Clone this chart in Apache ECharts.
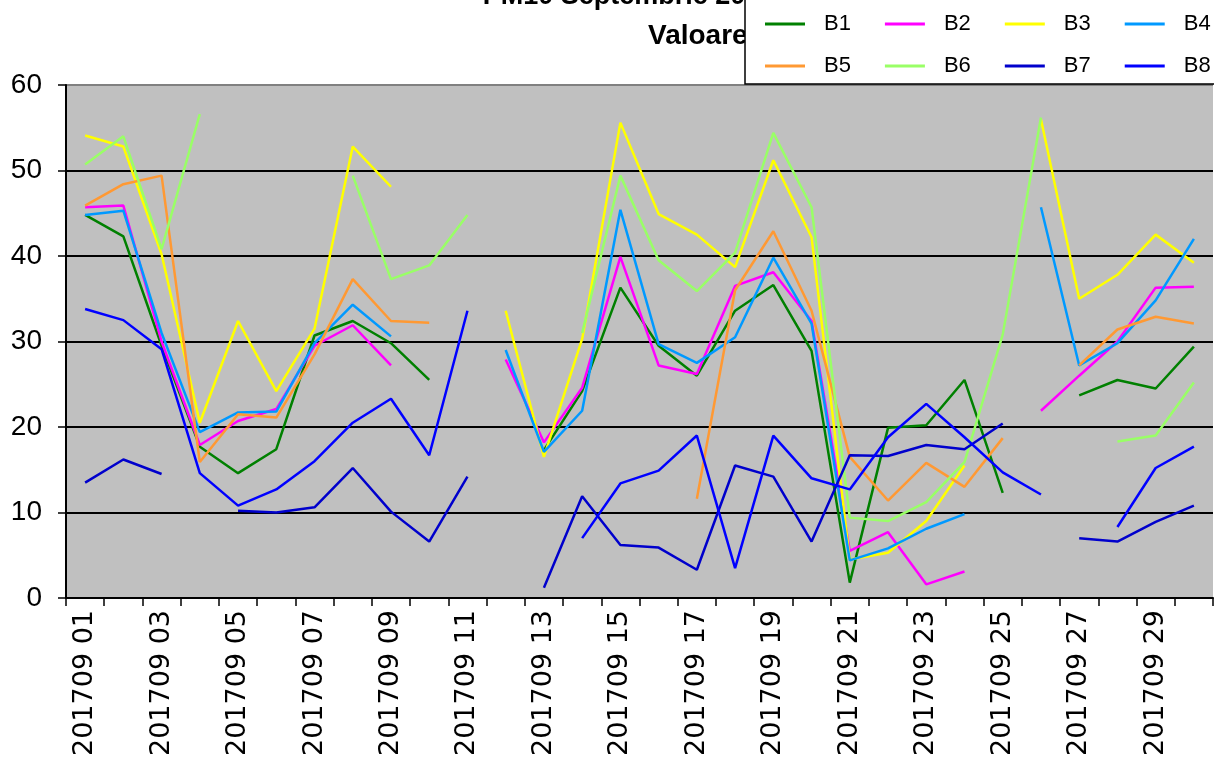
<!DOCTYPE html>
<html>
<head>
<meta charset="utf-8">
<script src="https://cdn.jsdelivr.net/npm/echarts@6/dist/echarts.min.js"></script>
<style>
  html, body { margin: 0; padding: 0; background: #fff; }
  #chart { width: 1214px; height: 759px; }
</style>
</head>
<body>
<div id="chart"></div>
<script>
// zile (categorii)
const days = [
  '201709 01', '201709 02', '201709 03', '201709 04', '201709 05', '201709 06',
  '201709 07', '201709 08', '201709 09', '201709 10', '201709 11', '201709 12',
  '201709 13', '201709 14', '201709 15', '201709 16', '201709 17', '201709 18',
  '201709 19', '201709 20', '201709 21', '201709 22', '201709 23', '201709 24',
  '201709 25', '201709 26', '201709 27', '201709 28', '201709 29', '201709 30'
]

// valori zilnice pe statii (null = lipsa date)
const b1 = [44.8, 42.3, 29.5, 17.7, 14.6, 17.4, 30.7, 32.4, 29.8, 25.5, null, null, 17.3, 24.2, 36.3, 29.5, 26.0, 33.6, 36.6, 28.9, 1.8, 19.9, 20.2, 25.5, 12.3, null, 23.7, 25.5, 24.5, 29.4]
const b2 = [45.7, 45.9, 30.0, 17.9, 20.7, 22.1, 29.5, 31.9, 27.2, null, null, 27.9, 18.2, 24.6, 39.9, 27.2, 26.2, 36.5, 38.1, 32.4, 5.5, 7.7, 1.6, 3.1, null, 21.9, 26.0, 30.0, 36.3, 36.4]
const b3 = [54.1, 52.8, 40.2, 20.5, 32.4, 24.2, 31.5, 52.8, 48.1, null, null, 33.6, 16.5, 30.3, 55.6, 44.9, 42.5, 38.7, 51.2, 42.2, 4.5, 5.3, 9.0, 15.5, null, 56.0, 35.0, 37.8, 42.5, 39.2]
const b4 = [44.8, 45.3, 31.0, 19.4, 21.7, 21.8, 29.8, 34.3, 30.6, null, null, 29.0, 17.1, 21.9, 45.4, 29.7, 27.5, 30.5, 39.8, 32.1, 4.4, 5.8, 8.1, 9.8, null, 45.7, 27.2, 29.8, 34.8, 42.0]
const b5 = [45.9, 48.4, 49.4, 15.9, 21.5, 21.1, 28.5, 37.3, 32.4, 32.2, null, null, null, null, null, null, 11.6, 36.0, 42.9, 33.6, 16.5, 11.4, 15.8, 13.0, 18.7, null, 27.2, 31.4, 32.9, 32.1]
const b6 = [50.7, 54.0, 40.8, 56.6, null, null, null, 49.4, 37.3, 38.9, 44.8, null, null, 31.0, 49.4, 39.5, 35.9, 40.4, 54.4, 45.7, 9.4, 9.0, 11.2, 15.9, 30.8, 56.2, null, 18.3, 19.0, 25.2]
const b7 = [13.5, 16.2, 14.5, null, 10.2, 10.0, 10.6, 15.2, 10.1, 6.6, 14.2, null, 1.2, 11.9, 6.2, 5.9, 3.3, 15.5, 14.2, 6.6, 16.7, 16.6, 17.9, 17.4, 20.4, null, 7.0, 6.6, 8.9, 10.8]
const b8 = [33.8, 32.5, 29.1, 14.6, 10.8, 12.7, 16.0, 20.5, 23.3, 16.7, 33.6, null, null, 7.0, 13.4, 14.9, 19.0, 3.5, 19.0, 14.0, 12.7, 18.8, 22.7, 18.8, 14.7, 12.1, null, 8.3, 15.2, 17.7]

const yTicks = [0, 10, 20, 30, 40, 50, 60]

const seriesDefs = [
  { name: 'B1', data: b1, color: '#008000' },
  { name: 'B2', data: b2, color: '#FF00FF' },
  { name: 'B3', data: b3, color: '#FFFF00' },
  { name: 'B4', data: b4, color: '#0099FF' },
  { name: 'B5', data: b5, color: '#FF9933' },
  { name: 'B6', data: b6, color: '#99FF66' },
  { name: 'B7', data: b7, color: '#0000CC' },
  { name: 'B8', data: b8, color: '#0000FF' },
]

const FONT = 'Liberation Sans, Arial, sans-serif'

const legendBase = {
  icon: 'rect',
  itemWidth: 40,
  itemHeight: 3,
  itemGap: 34,
  left: 760,
  width: 470,
  z: 10,
  textStyle: { fontFamily: FONT, fontSize: 22, color: '#000', padding: [0, 0, 0, 14] },
}

const chart = echarts.init(document.getElementById('chart'))

const option = {
  animation: false,
  backgroundColor: '#fff',
  color: seriesDefs.map((s) => s.color),
  graphic: [
    {
      type: 'text',
      z: 1,
      style: {
        text: 'PM10 Septembrie 2017 - valori zilnice',
        x: 722,
        y: -17,
        align: 'center',
        font: 'bold 27px ' + FONT,
        fill: '#000',
      },
    },
    {
      type: 'text',
      z: 1,
      style: {
        text: 'Valoare zilnica',
        x: 648,
        y: 22,
        font: 'bold 28px ' + FONT,
        fill: '#000',
      },
    },
    {
      type: 'rect',
      z: 5,
      shape: { x: 745, y: -2, width: 480, height: 86 },
      style: { fill: '#fff', stroke: '#000', lineWidth: 1.5 },
    },
  ],
  legend: [
    { ...legendBase, top: 8, data: ['B1', 'B2', 'B3', 'B4'] },
    { ...legendBase, top: 50, data: ['B5', 'B6', 'B7', 'B8'] },
  ],
  grid: {
    left: 66,
    right: 1,
    top: 85,
    bottom: 160,
    show: true,
    backgroundColor: '#C0C0C0',
    borderWidth: 0,
  },
  xAxis: {
    type: 'category',
    data: days,
    boundaryGap: true,
    axisLine: { lineStyle: { color: '#000', width: 2 } },
    axisTick: { show: true, interval: 0, length: 8, lineStyle: { color: '#000', width: 1.5 } },
    axisLabel: {
      interval: 1,
      rotate: 90,
      margin: 12,
      fontFamily: 'DejaVu Sans, sans-serif',
      fontSize: 27,
      color: '#000',
    },
    splitLine: { show: false },
  },
  yAxis: {
    type: 'value',
    min: yTicks[0],
    max: yTicks[yTicks.length - 1],
    interval: 10,
    axisLine: { show: true, lineStyle: { color: '#000', width: 2 } },
    axisTick: { show: true, length: 8, lineStyle: { color: '#000', width: 1.5 } },
    axisLabel: { fontFamily: FONT, fontSize: 28, color: '#000', margin: 24 },
    splitLine: {
      show: true,
      lineStyle: { color: ['#000', '#000', '#000', '#000', '#000', '#000', '#808080'], width: 2 },
    },
  },
  series: seriesDefs.map((s) => ({
    name: s.name,
    type: 'line',
    data: s.data,
    symbol: 'none',
    connectNulls: false,
    lineStyle: { color: s.color, width: 2.5 },
    itemStyle: { color: s.color },
  })),
}

chart.setOption(option)
</script>
</body>
</html>
